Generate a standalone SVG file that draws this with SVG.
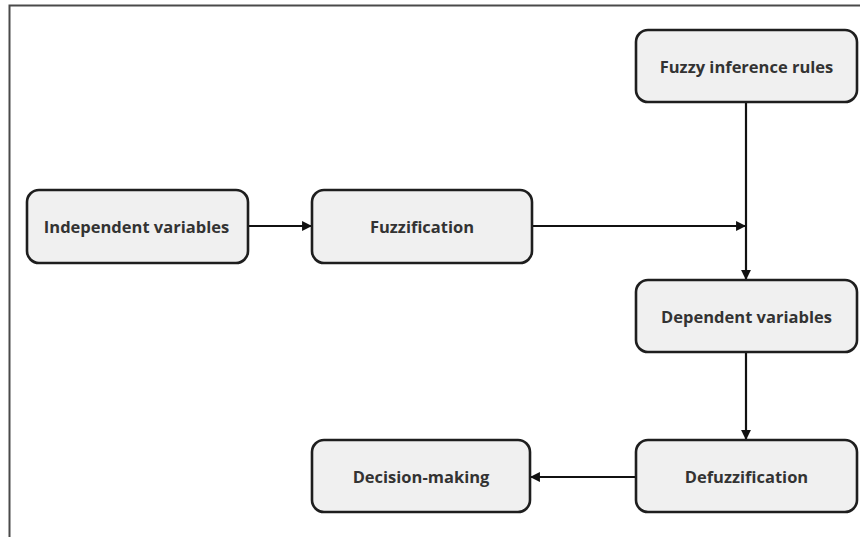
<svg xmlns="http://www.w3.org/2000/svg" width="865" height="537" viewBox="0 0 865 537">
  <style>
    .box { fill: #f0f0f0; stroke: #1e1e1e; stroke-width: 2.6; }
    .label { font-family: "Open Sans", "Liberation Sans", sans-serif; font-weight: bold; font-size: 16.5px; fill: #333333; text-anchor: middle; dominant-baseline: central; }
    .wire { stroke: #111111; stroke-width: 2.2; fill: none; marker-end: url(#arrow); }
    .frame { stroke: #4a4a4a; stroke-width: 2; fill: none; }
  </style>
  <defs>
    <marker id="arrow" viewBox="0 0 10 10" refX="9" refY="5" markerWidth="4.5" markerHeight="4.5" orient="auto" markerUnits="strokeWidth">
      <path d="M0,0 L10,5 L0,10 Z" fill="#111111"/>
    </marker>
  </defs>
  <rect width="865" height="537" fill="#ffffff"/>
  <path class="frame" d="M9.5,537 V5.5 H860"/>

  <g id="connectors">
    <path class="wire" d="M248,226 H311"/>
    <path class="wire" d="M532,226 H745"/>
    <path class="wire" d="M746,102 V279"/>
    <path class="wire" d="M746,352 V439"/>
    <path class="wire" d="M636,477 H531"/>
  </g>

  <g id="fuzzy-rules">
    <rect class="box" x="636" y="30" width="221" height="72" rx="12"/>
    <text class="label" x="746.5" y="66">Fuzzy inference rules</text>
  </g>
  <g id="independent-vars">
    <rect class="box" x="27" y="190" width="221" height="73" rx="12"/>
    <text class="label" x="136.5" y="226.5">Independent variables</text>
  </g>
  <g id="fuzzification">
    <rect class="box" x="312" y="190" width="220" height="73" rx="12"/>
    <text class="label" x="422" y="226.5">Fuzzification</text>
  </g>
  <g id="dependent-vars">
    <rect class="box" x="636" y="280" width="221" height="72" rx="12"/>
    <text class="label" x="746.5" y="316">Dependent variables</text>
  </g>
  <g id="defuzzification">
    <rect class="box" x="636" y="440" width="221" height="72" rx="12"/>
    <text class="label" x="746.5" y="476">Defuzzification</text>
  </g>
  <g id="decision-making">
    <rect class="box" x="312" y="440" width="218" height="72" rx="12"/>
    <text class="label" x="421" y="476">Decision-making</text>
  </g>
</svg>
